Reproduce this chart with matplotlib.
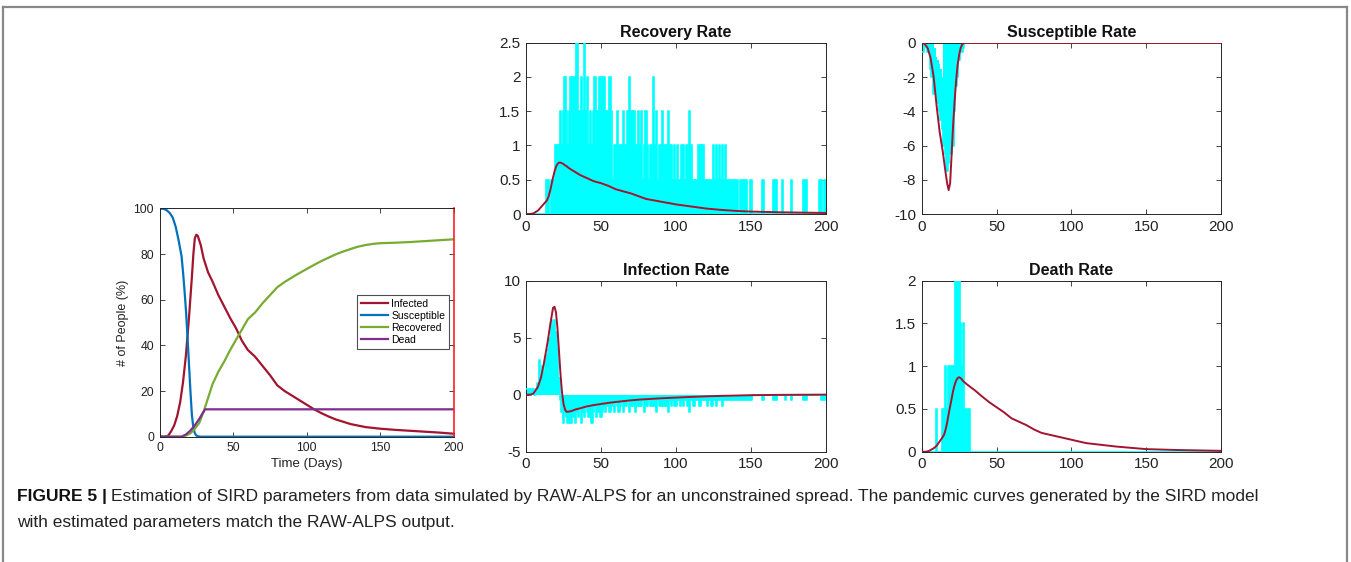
import matplotlib
matplotlib.use("Agg")
import matplotlib.pyplot as plt
from matplotlib.lines import Line2D
from matplotlib.ticker import FormatStrFormatter

plt.rcParams["font.family"] = ["Liberation Sans", "DejaVu Sans"]

# ---- left panel: SIRD curves (% of people) ----
inf_days = [0, 4, 6, 8, 10, 12, 14, 16, 18, 20, 22, 23, 24, 25, 26, 28, 30, 33, 36, 40, 44, 48,
            52, 56, 60, 65, 70, 75, 80, 85, 90, 95, 100, 105, 110, 115, 120, 130, 140, 150, 160,
            170, 180, 190, 200]
infected = [0, 0, 0.5, 2.5, 5, 9, 15, 24, 36, 52, 70, 80, 87, 88.5, 88, 84, 78, 72, 68, 62, 57,
            52, 47.5, 42, 38, 35, 31, 27, 22.5, 20, 18, 16, 14, 12, 10.3, 8.8, 7.5, 5.5, 4.2, 3.5,
            3, 2.6, 2.2, 1.8, 1.3]

sus_days = [0, 3, 5, 7, 9, 11, 13, 15, 16, 17, 18, 19, 20, 21, 22, 23, 24, 25, 26, 28, 200]
susceptible = [100, 99.8, 99.2, 98, 96, 92, 86, 79, 72, 64, 55, 44, 32, 20, 9.5, 4, 1.5, 0.5,
               0.2, 0, 0]

rec_days = [0, 15, 18, 21, 24, 27, 30, 33, 36, 40, 44, 48, 52, 56, 60, 65, 70, 75, 80, 85, 90,
            95, 100, 105, 110, 115, 120, 125, 130, 135, 140, 145, 150, 160, 170, 180, 190, 200]
recovered = [0, 0, 0.5, 1.5, 3.5, 6, 11, 17, 23, 28.5, 33, 38, 42.5, 47, 51.5, 54.5, 58.5, 62,
             65.5, 67.8, 69.8, 71.7, 73.5, 75.3, 77, 78.5, 80, 81.2, 82.3, 83.3, 84, 84.5, 84.8,
             85, 85.3, 85.7, 86.1, 86.5]

dead_days = [0, 15, 18, 21, 24, 27, 29, 31, 200]
dead = [0, 0, 1, 2.7, 5, 7.8, 10, 12, 12]

# ---- rate panels: smooth model curves ----
rate_days = [0, 3, 5, 8, 10, 12, 14, 15, 16, 17, 18, 19, 20, 21, 22, 23, 24, 25, 26, 27, 28,
             30, 33, 36, 40, 45, 50, 55, 60, 65, 70, 75, 80, 90, 100, 110, 120, 130, 140, 150, 170, 200]
recovery_fit = [0, 0, 0.01, 0.05, 0.1, 0.15, 0.2, 0.25, 0.33, 0.43, 0.53, 0.62, 0.69, 0.73, 0.75,
                0.75, 0.74, 0.73, 0.71, 0.7, 0.68, 0.65, 0.61, 0.57, 0.53, 0.48, 0.45, 0.41, 0.36,
                0.33, 0.3, 0.26, 0.22, 0.18, 0.14, 0.11, 0.08, 0.06, 0.045, 0.035, 0.025, 0.015]
infection_fit = [0, 0, 0.1, 0.7, 1.5, 2.8, 4.3, 5.1, 6.0, 6.8, 7.6, 7.7, 7.2, 5.8, 3.8, 1.8, 0.2,
                 -0.8, -1.3, -1.5, -1.5, -1.45, -1.3, -1.2, -1.05, -0.92, -0.82, -0.72, -0.64,
                 -0.57, -0.5, -0.44, -0.4, -0.32, -0.26, -0.2, -0.15, -0.11, -0.08, -0.05, -0.02, 0]
death_fit = [0, 0, 0.01, 0.04, 0.07, 0.12, 0.17, 0.2, 0.26, 0.34, 0.44, 0.53, 0.62, 0.71, 0.78,
             0.83, 0.86, 0.87, 0.86, 0.84, 0.82, 0.79, 0.75, 0.71, 0.65, 0.58, 0.52, 0.46, 0.39,
             0.35, 0.31, 0.26, 0.22, 0.18, 0.14, 0.1, 0.08, 0.06, 0.045, 0.03, 0.02, 0.01]
sus_fit_days = [0, 2, 4, 6, 8, 10, 12, 14, 16, 17, 18, 19, 20, 21, 22, 23, 24, 25, 26, 27, 28, 200]
susceptible_fit = [0, -0.05, -0.3, -0.9, -2, -3.7, -5.2, -6.3, -7.6, -8.2, -8.6, -8.2, -6.5, -4.8,
                   -3.4, -2.2, -1.3, -0.7, -0.3, -0.1, 0, 0]

# ---- rate panels: daily observed values (cyan), one value per day 0..200 ----
obs_days = list(range(201))
recovery_obs = ([0] * 14
                + [0.5, 0.5, 0, 0.5, 0.5, 0.5, 1, 0.5, 1]
                + [1.5, 1, 1.5, 2, 1.5, 1, 1.5, 2, 1.5, 2, 1.5, 2.5, 1.5, 1.5, 2, 1.5, 2.5, 1.5,
                   2, 1, 1.5, 1, 1.5, 2, 1, 1.5, 2, 2, 1, 2, 1.5, 1.5, 1, 2, 1.5]
                + [0.5, 1, 1, 1.5, 1, 0.5, 1, 1.5, 1, 1, 1.5, 2, 1.5, 1, 1.5, 1, 1, 1.5, 1, 1.5,
                   0.5, 1, 1.5, 1, 0.5, 1, 1, 2, 1, 1.5, 0.5, 1, 1, 1.5, 1, 0.5, 1, 1.5, 1, 1,
                   0.5, 1, 0.5, 1, 0.5, 0.5, 1, 1, 0.5, 1, 1, 1.5, 1]
                + [0.5, 0.5, 0, 0.5, 1, 1, 0.5, 1, 0.5, 0.5, 0, 0.5, 0.5, 0.5, 1, 0.5, 1, 0.5,
                   1, 0.5, 1, 0.5, 1, 0.5, 0.5, 0.5, 0, 0.5, 0.5, 0.5, 0.5, 0, 0.5, 0.5]
                + [0.5, 0.5, 0.5, 0, 0, 0.5, 0, 0, 0, 0, 0, 0, 0, 0.5, 0, 0, 0, 0, 0, 0, 0.5,
                   0.5, 0.5, 0, 0, 0, 0.5, 0, 0, 0, 0, 0, 0.5, 0, 0, 0, 0, 0, 0, 0, 0.5, 0.5,
                   0.5, 0, 0, 0, 0, 0, 0, 0, 0, 0.5, 0.5, 0, 0.5, 0.5])
susceptible_obs = ([-0.5, -0.5, -0.3, -0.2, -0.5, -0.5, -1.5, -2, -3, -2.5,
                    -3, -3.5, -4, -4.5, -5, -6, -6.5, -7.5, -7, -6.5,
                    -6.5, -6, -4, -2.5, -2, -1, -0.5, -0.5, -0.3]
                   + [0] * 172)
# upper edge of the cyan trace (it leaves a white gap under 0 around day 9-14)
susceptible_top = ([0] * 9 + [-0.3, -0.8, -1, -1.2, -1.5, -2] + [0] * 186)
infection_obs = ([0.5, 0.5, 0.5, 0, 0.5, 0.5, 0, 0.5, 1, 3,
                  1.5, 2.5, 2, 3, 3.5, 4, 5, 6.5, 6, 6.5,
                  5.5, 4, 1.5]
                 # days 23-80
                 + [-0.5, -1.5, -2.5, -1.5, -2, -2.5, -1.5, -2.5, -1, -2,
                    -2.5, -1.5, -2, -1, -2.5, -1.5, -2, -1, -1.5, -2,
                    -1, -2.5, -1.5, -1, -2, -1.5, -1, -2, -1.5, -1,
                    -1.5, -1, -0.5, -1.5, -1, -1, -1.5, -0.5, -1, -1.5,
                    -1, -0.5, -1.5, -1, -1, -0.5, -1.5, -1, -0.5, -1,
                    -1.5, -1, -0.5, -1, -1, -0.5, -1.5, -1]
                 # days 81-150
                 + [-1, -0.5, -1, -1, -0.5, -1, -1.5, -0.5, -1, -1,
                    -0.5, -1, -0.5, -1, -1.5, -0.5, -1, -0.5, -1, -1,
                    -0.5, -0.5, -1, -0.5, -1, -0.5, -0.5, -1, -1.5, -0.5,
                    -0.5, -1, -0.5, -0.5, -0.5, -1, -0.5, -0.5, -0.5, -0.5,
                    -1, -0.5, -0.5, -1, -0.5, -0.5, -1, -0.5, -0.5, -0.5,
                    -1, -0.5, -0.5, -0.5, -0.5, -0.5, -0.5, -0.5, -0.5, -0.5,
                    -0.5, -0.5, -0.5, -0.5, -0.5, -0.5, -0.5, -0.5, -0.5, -0.5]
                 # days 151-200
                 + [0, 0, 0, 0, 0, 0, 0, -0.5, 0, 0,
                    0, 0, 0, 0, -0.5, -0.5, -0.5, 0, 0, 0,
                    0, 0, -0.5, 0, 0, 0, -0.5, 0, 0, 0,
                    0, 0, 0, 0, -0.5, -0.5, -0.5, 0, 0, 0,
                    0, 0, 0, 0, 0, 0, -0.5, -0.5, -0.5, 0])
death_obs = ([0] * 10 + [0.5, 0, 0, 0, 0.5, 0.5, 1, 0.5, 1, 1, 1, 1, 1, 2, 1, 2, 1.5, 1, 1.5,
                         0.5, 0.5, 0.5, 0.5] + [0] * 168)

C_RED = "#A2142F"
C_BLUE = "#0072BD"
C_GREEN = "#77AC30"
C_PURPLE = "#7E2F8E"
C_CYAN = "#00FFFF"
C_AX = "#262626"

W, H = 1351, 562
fig = plt.figure(figsize=(W / 100, H / 100), dpi=100)


def px_axes(x0, x1, ytop, ybot):
    return fig.add_axes([x0 / W, 1 - ybot / H, (x1 - x0) / W, (ybot - ytop) / H])


def style(ax, size):
    for s in ax.spines.values():
        s.set_color(C_AX)
        s.set_linewidth(0.7)
    ax.tick_params(direction="in", top=True, right=True, length=3.5, width=0.6,
                   color=C_AX, labelsize=size, pad=4, labelcolor="#222222")
    ax.set_xlim(0, 200)
    ax.set_xticks([0, 50, 100, 150, 200])
    ax.yaxis.set_major_formatter(FormatStrFormatter("%g"))


# left panel
ax0 = px_axes(159.5, 454, 208.5, 436.7)
ax0.plot(inf_days, infected, color=C_RED, lw=1.6, label="Infected")
ax0.plot(sus_days, susceptible, color=C_BLUE, lw=1.6, label="Susceptible")
ax0.plot(rec_days, recovered, color=C_GREEN, lw=1.6, label="Recovered")
ax0.plot(dead_days, dead, color=C_PURPLE, lw=1.6, label="Dead")
style(ax0, 8.8)
ax0.set_ylim(0, 100)
ax0.set_yticks(range(0, 101, 20))
ax0.spines["right"].set_color("#FF2020")
ax0.spines["right"].set_linewidth(1.2)
ax0.set_xlabel("Time (Days)", fontsize=9.5, labelpad=3, color="#222222")
ax0.set_ylabel("# of People (%)", fontsize=9, labelpad=3, color="#222222")
leg = ax0.legend(loc="upper left", bbox_to_anchor=(0.672, 0.62), fontsize=7.5, frameon=True,
                 fancybox=False, edgecolor="#222222", borderpad=0.35, labelspacing=0.2,
                 handlelength=2.6, handletextpad=0.3, borderaxespad=0)
leg.get_frame().set_linewidth(0.8)


def rate_panel(ax, obs, days, fit, title, ylim, yticks, top=None):
    if top is None:
        ax.bar(obs_days, obs, width=1.0, color=C_CYAN, linewidth=0, zorder=2)
    else:
        ax.bar(obs_days, [o - t for o, t in zip(obs, top)], bottom=top, width=1.0,
               color=C_CYAN, linewidth=0, zorder=2)
    ax.plot(obs_days, obs, color=C_CYAN, lw=1.2, drawstyle="steps-mid", zorder=2.6)
    ax.plot(days, fit, color=C_RED, lw=1.4, zorder=3)
    style(ax, 11)
    ax.set_ylim(*ylim)
    ax.set_yticks(yticks)
    ax.set_title(title, fontsize=11.5, fontweight="bold", pad=4, color="#111111")


ax1 = px_axes(526, 826, 42.7, 214)
rate_panel(ax1, recovery_obs, rate_days, recovery_fit, "Recovery Rate", (0, 2.5),
           [0, 0.5, 1, 1.5, 2, 2.5])
ax2 = px_axes(921.7, 1221, 43, 214)
rate_panel(ax2, susceptible_obs, sus_fit_days, susceptible_fit, "Susceptible Rate", (-10, 0),
           [-10, -8, -6, -4, -2, 0], top=susceptible_top)
ax3 = px_axes(526, 826, 280.5, 451.7)
rate_panel(ax3, infection_obs, rate_days, infection_fit, "Infection Rate", (-5, 10), [-5, 0, 5, 10])
ax4 = px_axes(921.7, 1221, 280.5, 451.7)
rate_panel(ax4, death_obs, rate_days, death_fit, "Death Rate", (0, 2), [0, 0.5, 1, 1.5, 2])

# frame around figure + caption
for xs, ys in [([3, 1347], [7, 7]), ([3, 3], [7, 562]), ([1347, 1347], [7, 562])]:
    fig.add_artist(Line2D([x / W for x in xs], [1 - y / H for y in ys], color="#888888", lw=1.6))

cap_size = 12.5
t_bold = fig.text(17 / W, 1 - 497 / H, "FIGURE 5 |", fontsize=cap_size, fontweight="bold",
                  va="center", ha="left", color="#111111")
fig.canvas.draw()
bb = t_bold.get_window_extent(fig.canvas.get_renderer())
fig.text((bb.x1 + 4) / W, 1 - 497 / H,
         "Estimation of SIRD parameters from data simulated by RAW-ALPS for an unconstrained "
         "spread. The pandemic curves generated by the SIRD model",
         fontsize=cap_size, va="center", ha="left", color="#222222")
fig.text(17 / W, 1 - 522 / H, "with estimated parameters match the RAW-ALPS output.",
         fontsize=cap_size, va="center", ha="left", color="#222222")

fig.savefig("out.png", dpi=100)
